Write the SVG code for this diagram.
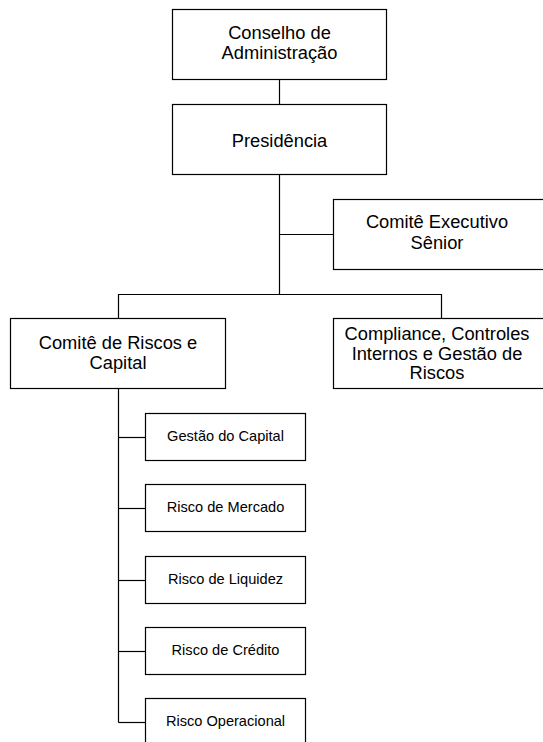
<svg xmlns="http://www.w3.org/2000/svg" width="543" height="742" viewBox="0 0 543 742">
<style>
.box{fill:#fff;stroke:#000;stroke-width:1.2}
.ln{fill:none;stroke:#000;stroke-width:1.2}
.t{font-family:"Liberation Sans",Arial,sans-serif;font-size:18.3px;fill:#000;text-anchor:middle}
.s{font-family:"Liberation Sans",Arial,sans-serif;font-size:14.6px;fill:#000;text-anchor:middle}
</style>
<rect width="543" height="742" fill="#fff"/>
<g id="connectors">
<path class="ln" d="M279.5 79.5V104.5"/>
<path class="ln" d="M279.5 175V294.5"/>
<path class="ln" d="M279.5 234.5H333"/>
<path class="ln" d="M118.5 318V294.5H441.5V318"/>
<path class="ln" d="M118.5 389V722.5"/>
<path class="ln" d="M118.5 437.5H145"/>
<path class="ln" d="M118.5 508.5H145"/>
<path class="ln" d="M118.5 580.5H145"/>
<path class="ln" d="M118.5 651.5H145"/>
<path class="ln" d="M118.5 722.5H145"/>
</g>
<g id="conselho"><rect class="box" x="172.5" y="9.5" width="214" height="70"/><text class="t" x="279.5" y="39">Conselho de</text><text class="t" x="279.5" y="59">Administração</text></g>
<g id="presidencia"><rect class="box" x="172.5" y="104.5" width="214" height="70"/><text class="t" x="279.5" y="147">Presidência</text></g>
<g id="comite-executivo"><rect class="box" x="333.5" y="199.5" width="214" height="70"/><text class="t" x="437" y="227.5">Comitê Executivo</text><text class="t" x="437" y="249">Sênior</text></g>
<g id="comite-riscos"><rect class="box" x="10.5" y="318.5" width="215" height="70"/><text class="t" x="118" y="349">Comitê de Riscos e</text><text class="t" x="118" y="369">Capital</text></g>
<g id="compliance"><rect class="box" x="333.5" y="318.5" width="214" height="70"/><text class="t" x="437" y="340">Compliance, Controles</text><text class="t" x="437" y="359.5">Internos e Gestão de</text><text class="t" x="437" y="379">Riscos</text></g>
<g id="gestao-capital"><rect class="box" x="145.5" y="413.5" width="160" height="47"/><text class="s" x="225.5" y="440.5">Gestão do Capital</text></g>
<g id="risco-mercado"><rect class="box" x="145.5" y="484.5" width="160" height="47"/><text class="s" x="225.5" y="511.5">Risco de Mercado</text></g>
<g id="risco-liquidez"><rect class="box" x="145.5" y="556.5" width="160" height="47"/><text class="s" x="225.5" y="583.5">Risco de Liquidez</text></g>
<g id="risco-credito"><rect class="box" x="145.5" y="627.5" width="160" height="47"/><text class="s" x="225.5" y="654.5">Risco de Crédito</text></g>
<g id="risco-operacional"><rect class="box" x="145.5" y="698.5" width="160" height="47"/><text class="s" x="225.5" y="725.5">Risco Operacional</text></g>
</svg>
